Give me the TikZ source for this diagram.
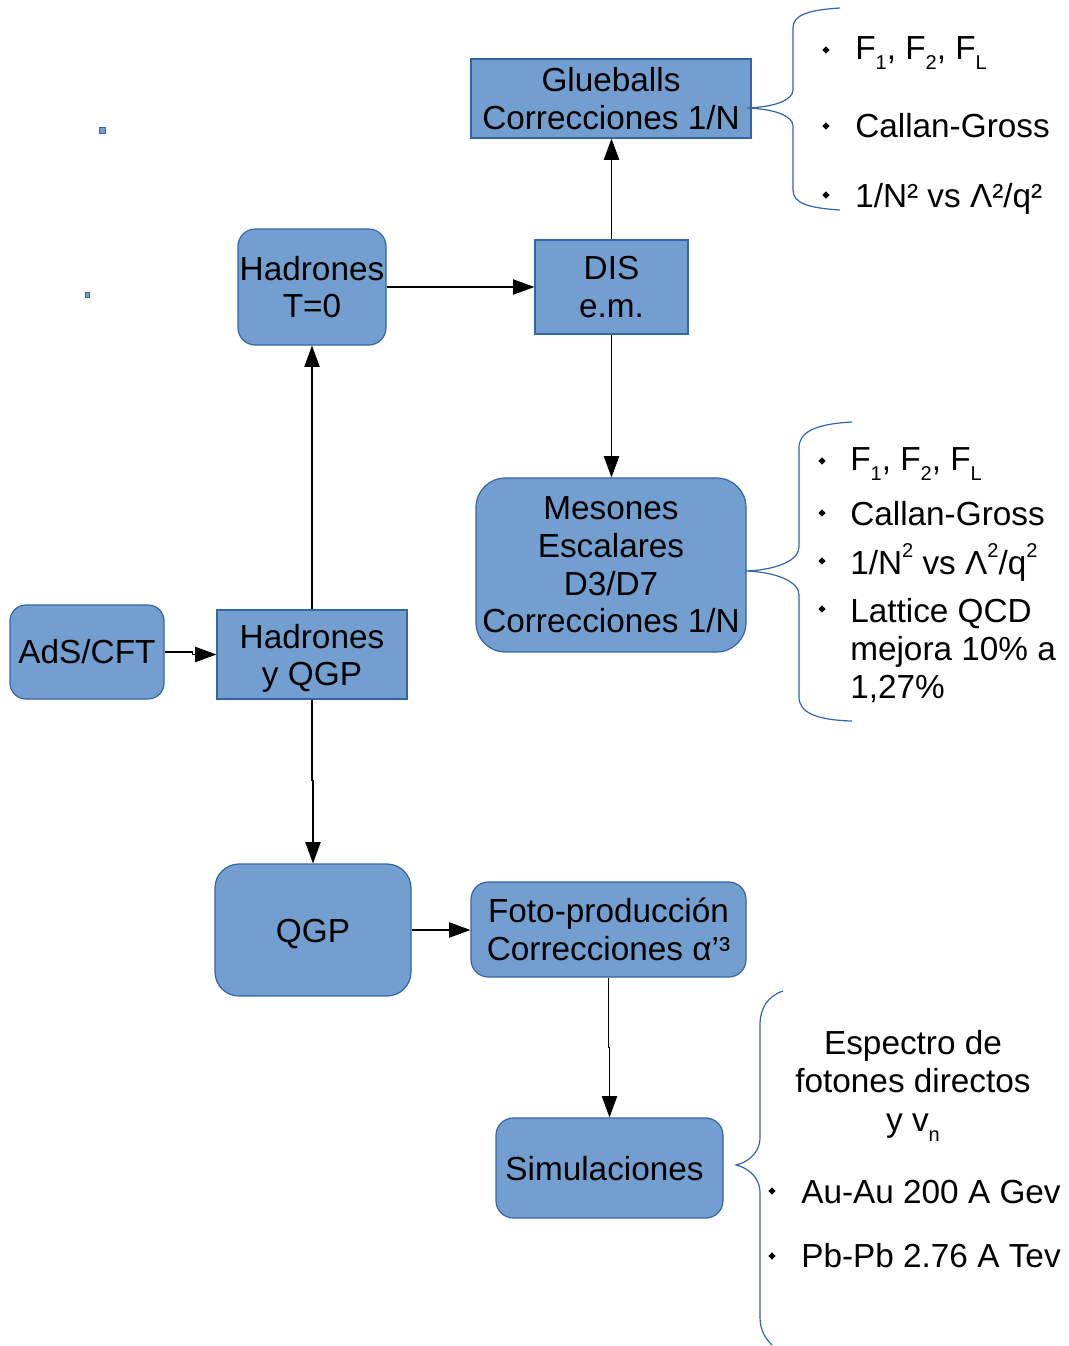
\documentclass[tikz,border=0pt]{standalone}
\usepackage{fontspec}
\setmainfont{Liberation Sans}
\usetikzlibrary{arrows.meta,shapes.geometric}
\definecolor{boxfill}{HTML}{729FCF}
\definecolor{boxline}{HTML}{3465A4}
\newcommand{\mysub}[1]{\raisebox{-0.32em}{\fontsize{15pt}{15pt}\selectfont #1}}
\newcommand{\mysup}[1]{\raisebox{0.5em}{\fontsize{15pt}{15pt}\selectfont #1}}
\begin{document}
\begin{tikzpicture}[x=0.75pt,y=-0.75pt,
  box/.style={draw=boxline,fill=boxfill,line width=0.9pt,inner sep=0pt,align=center,font=\fontsize{25pt}{28.3pt}\selectfont},
  rbox/.style={box,rounded corners=#1},
  txt/.style={inner sep=0pt,align=center,font=\fontsize{25pt}{28.3pt}\selectfont},
  arr/.style={draw=black,line width=0.8pt,-{Triangle[length=16pt,width=11.5pt]}},
  brace/.style={draw=boxline,line width=0.9pt},
  lbl/.style={font=\fontsize{25pt}{28.3pt}\selectfont,inner sep=0pt,anchor=base west},
  clbl/.style={font=\fontsize{25pt}{28.3pt}\selectfont,inner sep=0pt,anchor=base},
  bul/.style={diamond,fill=black,inner sep=0pt,minimum size=5.5pt},
  tiny/.style={draw=boxline,fill=boxfill,line width=0.6pt,inner sep=0pt}]
\useasboundingbox (0,0) rectangle (1069,1346);

% boxes
\node[box,minimum width=210pt,minimum height=59.25pt] (glue) at (611,98.5) {Glueballs\\Correcciones 1/N};
\node[rbox=13pt,minimum width=111pt,minimum height=87pt] (hadT) at (312,287) {Hadrones\\T=0};
\node[box,minimum width=114.75pt,minimum height=70.5pt] (dis) at (611.5,287) {DIS\\e.m.};
\node[rbox=22pt,minimum width=202.5pt,minimum height=130.5pt] (mes) at (611,565) {Mesones\\Escalares\\D3/D7\\Correcciones 1/N};
\node[rbox=12pt,minimum width=115.5pt,minimum height=70.5pt] (ads) at (87,652) {AdS/CFT};
\node[box,minimum width=142.5pt,minimum height=66.75pt] (hadQ) at (312,654.5) {};
\node[txt] (hadQt) at (312,658.5) {Hadrones\\y QGP};
\node[rbox=18pt,minimum width=147pt,minimum height=99pt] (qgp) at (313,930) {};
\node[txt] (qgpt) at (313,934) {QGP};
\node[rbox=13pt,minimum width=206.25pt,minimum height=71.25pt] (foto) at (608.5,929.5) {Foto-producción\\Correcciones α’³};
\node[rbox=13pt,minimum width=170.25pt,minimum height=75pt] (sim) at (609.5,1168) {};
\node[txt] (simt) at (604.5,1169) {Simulaciones};

% small marks
\node[tiny,minimum size=4.5pt] (m1) at (102.5,130.5) {};
\node[tiny,minimum width=2.5pt,minimum height=3.5pt] (m2) at (87.5,295) {};

% arrows
\draw[arr] (hadT.east) -- (dis.west);
\draw[arr] (dis.north) -- (dis.north |- glue.south);
\draw[arr] (dis.south) -- (dis.south |- mes.north);
\draw[arr] (hadQ.north) -- (hadT.south);
\draw[arr] (ads.east) -- ++(28,0) |- (hadQ.west);
\draw[arr] (hadQ.south) -- ++(0,81) -| (qgp.north);
\draw[arr] (qgp.east) -- (qgp.east -| foto.west);
\draw[arr] (foto.south) -- ++(0,70) -| (sim.north);

% braces
\coordinate (b1) at (747,108);
\draw[brace] (840,8) .. controls (808,10) and (793,15) .. (793,28) -- (793,90)
  .. controls (793,100) and (775,107) .. (b1)
  .. controls (775,109) and (793,116) .. (793,126) -- (793,190)
  .. controls (793,203) and (808,208) .. (840,210);
\coordinate (b2) at (746,571);
\draw[brace] (852,422) .. controls (815,424) and (799,432) .. (799,448) -- (799,547)
  .. controls (799,561) and (775,570) .. (b2)
  .. controls (775,572) and (799,581) .. (799,595) -- (799,697)
  .. controls (799,712) and (815,720) .. (852,721);
\coordinate (b3) at (736,1165);
\draw[brace] (783,991) .. controls (768,996) and (760,1008) .. (760,1025) -- (760,1137)
  .. controls (760,1155) and (745,1163) .. (b3)
  .. controls (745,1167) and (760,1175) .. (760,1193) -- (760,1317)
  .. controls (760,1330) and (765,1338) .. (772,1345);

% top list
\node[bul] (tb1) at (826,50) {};
\node[bul] (tb2) at (826,126) {};
\node[bul] (tb3) at (826,195) {};
\node[lbl] (tt1) at (855,59) {F\mysub{1}, F\mysub{2}, F\mysub{L}};
\node[lbl] (tt2) at (855,137) {Callan-Gross};
\node[lbl] (tt3) at (855,207) {1/N² vs Λ²/q²};

% middle list
\node[bul] (mb1) at (822,461) {};
\node[bul] (mb2) at (822,513) {};
\node[bul] (mb3) at (822,561) {};
\node[bul] (mb4) at (822,609) {};
\node[lbl] (mt1) at (850,470) {F\mysub{1}, F\mysub{2}, F\mysub{L}};
\node[lbl] (mt2) at (850,525) {Callan-Gross};
\node[lbl] (mt3) at (850,574) {1/N\mysup{2} vs Λ\mysup{2}/q\mysup{2}};
\node[lbl] (mt4) at (850,622) {Lattice QCD};
\node[lbl] (mt5) at (850,660) {mejora 10\% a};
\node[lbl] (mt6) at (850,698) {1,27\%};

% bottom list
\node[clbl] (bt1) at (913,1054) {Espectro de};
\node[clbl] (bt2) at (913,1092) {fotones directos};
\node[clbl] (bt3) at (913,1131) {y v\mysub{n}};
\node[bul] (bb1) at (772,1191) {};
\node[bul] (bb2) at (772,1256) {};
\node[lbl] (bt4) at (801,1203) {Au-Au 200 A Gev};
\node[lbl] (bt5) at (801,1267) {Pb-Pb 2.76 A Tev};
\end{tikzpicture}
\end{document}
